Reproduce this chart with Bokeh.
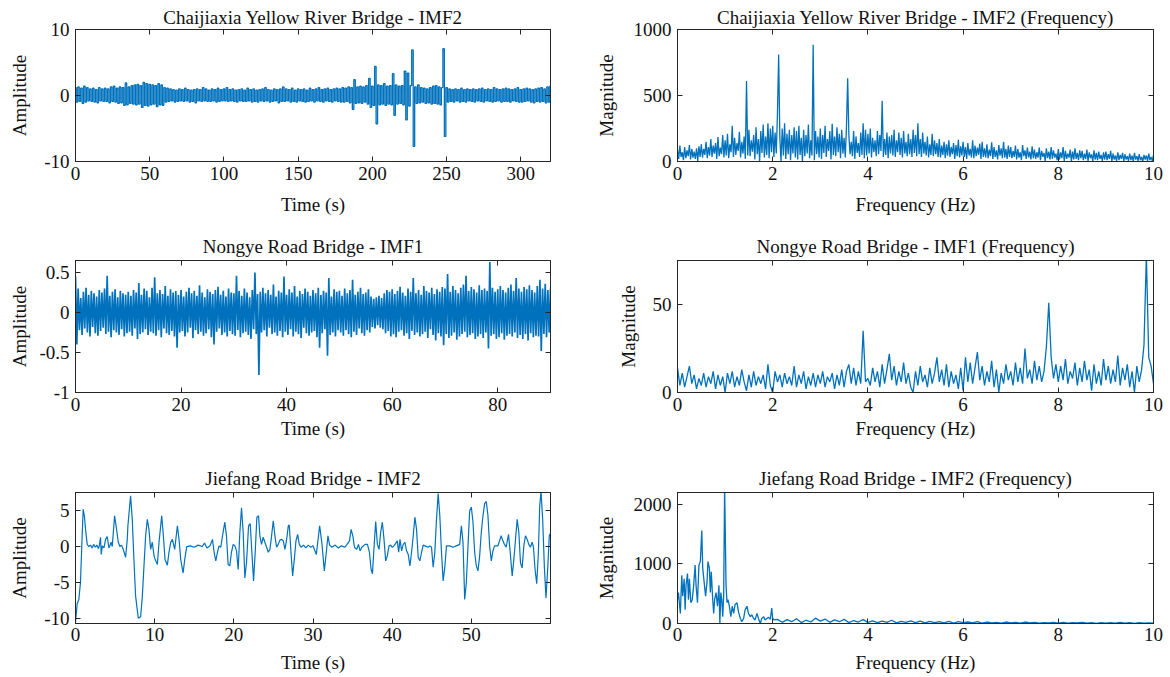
import numpy as np
from bokeh.plotting import figure
from bokeh.models import LinearAxis, FixedTicker, Range1d, CustomJSTickFormatter
from bokeh.layouts import column, row
from bokeh.embed import file_html
from bokeh.resources import INLINE

# ---------------- data ----------------
# Panel 1: Chaijiaxia Yellow River Bridge - IMF2 (time, 1 s steps, 0..320 s)
v1 = [
    1.2, -1.0, 1.3, -0.9, 1.1, -1.2, 1.4, -1.0, 1.2, -0.8,
    1.0, -0.9, 1.1, -1.0, 0.9, -1.1, 1.2, -0.8, 1.0, -0.9,
    1.1, -0.9, 1.0, -1.1, 1.3, -0.9, 1.4, -1.0, 1.1, -1.2,
    1.3, -1.1, 1.2, -1.5, 1.9, -1.4, 1.3, -1.2, 1.5, -1.3,
    1.6, -1.4, 1.7, -1.3, 1.5, -1.8, 2.0, -1.5, 1.8, -1.6,
    1.7, -1.4, 1.6, -1.3, 1.5, -1.7, 1.8, -1.4, 1.6, -1.5,
    1.2, -1.0, 1.1, -0.9, 1.0, -0.8, 0.9, -1.0, 0.8, -0.9,
    1.0, -0.8, 0.9, -0.9, 1.1, -0.8, 0.9, -1.0, 0.8, -0.9,
    0.9, -1.1, 1.0, -0.8, 0.9, -0.9, 1.2, -0.8, 1.0, -0.9,
    0.8, -0.9, 1.0, -0.8, 0.9, -1.0, 1.1, -0.9, 0.9, -0.8,
    1.0, -0.8, 1.2, -0.9, 0.9, -0.8, 1.0, -0.9, 0.8, -1.0,
    0.9, -0.8, 1.0, -0.9, 0.8, -0.9, 1.1, -0.8, 0.9, -1.0,
    1.0, -0.9, 0.8, -1.0, 0.9, -0.8, 1.0, -0.9, 1.2, -0.8,
    0.9, -1.0, 0.8, -0.9, 1.0, -0.8, 0.9, -1.1, 1.0, -0.9,
    1.3, -0.9, 1.0, -0.8, 0.9, -1.0, 1.1, -0.9, 0.8, -1.0,
    1.0, -0.8, 0.9, -0.9, 1.0, -1.0, 0.8, -0.9, 1.1, -0.8,
    0.9, -1.0, 1.0, -0.8, 1.2, -0.9, 0.9, -1.0, 1.0, -0.8,
    1.1, -0.9, 0.9, -1.0, 1.0, -0.8, 1.1, -0.9, 1.0, -1.0,
    1.2, -1.0, 1.1, -0.9, 1.3, -1.1, 1.2, -2.1, 2.4, -1.2,
    1.3, -1.1, 1.4, -1.2, 1.3, -1.0, 1.5, -1.3, 2.6, -1.8,
    1.4, -1.5, 4.4, -4.3, 1.6, -1.4, 1.5, -1.3, 1.8, -1.5,
    1.4, -1.3, 1.5, -1.4, 3.3, -3.0, 1.6, -1.3, 1.4, -1.2,
    1.5, -1.4, 3.7, -3.7, 3.4, -1.6, 1.5, 6.9, -7.7, 1.3,
    -1.2, 1.6, -1.1, 1.2, -1.0, 1.1, -1.2, 1.0, -1.1, 1.2,
    -1.3, 1.4, -1.2, 1.5, -1.3, 1.3, -1.4, 1.2, 7.1, -6.2,
    1.2, -1.0, 1.0, -0.9, 0.9, -1.0, 1.0, -0.8, 0.9, -1.0,
    1.1, -0.9, 0.9, -1.0, 1.0, -0.8, 0.9, -0.9, 1.0, -1.0,
    0.9, -0.8, 1.0, -0.9, 1.1, -1.0, 0.9, -0.8, 1.0, -0.9,
    0.9, -1.0, 1.2, -0.9, 1.0, -0.8, 0.9, -1.0, 1.0, -0.9,
    1.1, -0.9, 1.0, -1.0, 0.9, -0.8, 1.0, -0.9, 1.2, -1.0,
    0.9, -1.0, 1.0, -0.9, 1.1, -0.8, 1.0, -1.0, 0.9, -1.1,
    1.0, -0.9, 1.1, -1.0, 1.2, -0.9, 1.0, -1.1, 1.3, -1.0,
    1.4,
]
dt1 = 1.0

# Panel 2: Chaijiaxia spectrum (0.025 Hz steps, 0..10 Hz)
v2 = [
    90, 20, 120, 35, 70, 10, 110, 25, 85, 40, 125, 15, 95, 30, 75, 20, 100, 5, 115, 35,
    130, 30, 95, 50, 150, 25, 110, 45, 170, 35, 120, 60, 140, 20, 185, 40, 105, 55, 200, 30,
    160, 45, 210, 25, 130, 70, 270, 35, 180, 50, 140, 80, 225, 30, 150, 60, 190, 20, 610, 45,
    240, 40, 160, 75, 200, 15, 260, 55, 170, 0, 230, 65, 280, 30, 190, 50, 290, 25, 250, 70,
    270, 35, 220, 60, 360, 810, 180, 0, 250, 45, 290, 20, 210, 55, 240, 10, 200, 60, 260, 30,
    230, 15, 270, 50, 180, 0, 240, 40, 200, 60, 280, 25, 160, 45, 885, 10, 230, 55, 190, 30,
    250, 20, 200, 65, 270, 35, 170, 80, 230, 15, 285, 50, 190, 40, 260, 70, 210, 25, 240, 60,
    180, 30, 270, 630, 200, 55, 150, 40, 230, 20, 190, 65, 140, 35, 220, 50, 290, 25, 240, 45,
    210, 60, 250, 30, 180, 70, 160, 40, 230, 55, 200, 80, 460, 35, 170, 50, 220, 25, 190, 60,
    200, 45, 240, 35, 160, 70, 220, 50, 180, 30, 230, 60, 150, 40, 210, 55, 170, 35, 240, 65,
    200, 40, 290, 55, 170, 35, 220, 60, 150, 45, 190, 30, 130, 50, 210, 40, 160, 55, 140, 35,
    170, 30, 120, 50, 150, 25, 130, 45, 160, 35, 110, 55, 140, 20, 125, 40, 165, 30, 115, 45,
    150, 35, 110, 20, 140, 45, 95, 30, 160, 25, 120, 40, 105, 50, 135, 20, 150, 35, 100, 30,
    130, 25, 90, 40, 145, 20, 110, 35, 85, 15, 125, 45, 100, 25, 150, 30, 95, 20, 120, 35,
    110, 25, 80, 35, 120, 15, 95, 30, 70, 10, 125, 40, 85, 20, 105, 30, 75, 15, 115, 25,
    90, 20, 70, 30, 105, 10, 80, 35, 65, 5, 100, 25, 75, 15, 110, 20, 85, 30, 60, 10,
    95, 15, 70, 25, 110, 5, 80, 20, 60, 30, 90, 0, 75, 15, 100, 20, 65, 10, 85, 25,
    80, 10, 60, 20, 90, 5, 70, 25, 55, 0, 85, 15, 65, 10, 75, 20, 50, 5, 70, 15,
    75, 10, 55, 20, 80, 0, 60, 15, 45, 5, 70, 10, 50, 20, 65, 0, 55, 15, 40, 5,
    60, 10, 45, 0, 65, 15, 40, 5, 55, 10, 35, 0, 50, 15, 45, 5, 60, 10, 35, 5,
    50,
]
df2 = 0.025

# Panel 3: Nongye Road Bridge - IMF1 (time, 0.25 s steps, 0..90 s)
v3 = [
    0.45, -0.40, 0.30, -0.22, 0.18, -0.28, 0.26, -0.20, 0.31, -0.25, 0.22, -0.30, 0.27, -0.18, 0.24, -0.26, 0.20, -0.29, 0.28, -0.23,
    0.25, -0.19, 0.30, -0.27, 0.46, -0.24, 0.21, -0.31, 0.26, -0.22, 0.29, -0.25, 0.19, -0.28, 0.27, -0.21, 0.24, -0.30, 0.22, -0.26,
    0.26, -0.24, 0.21, -0.29, 0.28, -0.20, 0.25, -0.33, 0.37, -0.27, 0.22, -0.25, 0.30, -0.21, 0.27, -0.28, 0.19, -0.24, 0.31, -0.26,
    0.44, -0.29, 0.24, -0.22, 0.28, -0.31, 0.23, -0.20, 0.33, -0.26, 0.21, -0.28, 0.29, -0.23, 0.25, -0.30, 0.27, -0.44, 0.22, -0.25,
    0.28, -0.23, 0.20, -0.30, 0.26, -0.25, 0.31, -0.19, 0.24, -0.32, 0.27, -0.22, 0.21, -0.27, 0.34, -0.24, 0.25, -0.29, 0.19, -0.26,
    0.29, -0.21, 0.26, -0.31, 0.23, -0.40, 0.28, -0.24, 0.32, -0.20, 0.22, -0.28, 0.27, -0.25, 0.20, -0.30, 0.30, -0.23, 0.25, -0.27,
    0.24, -0.29, 0.46, -0.22, 0.27, -0.31, 0.21, -0.26, 0.30, -0.24, 0.25, -0.28, 0.19, -0.33, 0.28, -0.21, 0.50, -0.27, 0.23, -0.78,
    0.26, -0.25, 0.31, -0.22, 0.24, -0.30, 0.28, -0.19, 0.22, -0.27, 0.35, -0.25, 0.20, -0.29, 0.27, -0.23, 0.25, -0.31, 0.45, -0.24,
    0.22, -0.28, 0.29, -0.21, 0.25, -0.30, 0.33, -0.24, 0.20, -0.27, 0.27, -0.32, 0.23, -0.19, 0.30, -0.26, 0.26, -0.29, 0.21, -0.25,
    0.28, -0.23, 0.24, -0.31, 0.31, -0.44, 0.22, -0.26, 0.27, -0.21, 0.25, -0.54, 0.43, -0.28, 0.20, -0.25, 0.29, -0.30, 0.26, -0.22,
    0.27, -0.25, 0.21, -0.29, 0.30, -0.22, 0.24, -0.27, 0.28, -0.31, 0.41, -0.24, 0.22, -0.28, 0.26, -0.20, 0.31, -0.26, 0.23, -0.29,
    0.25, -0.22, 0.29, -0.25, 0.20, -0.18, 0.17, -0.20, 0.19, -0.16, 0.21, -0.19, 0.18, -0.21, 0.24, -0.26, 0.28, -0.23, 0.26, -0.30,
    0.29, -0.27, 0.23, -0.31, 0.27, -0.24, 0.32, -0.22, 0.25, -0.29, 0.21, -0.26, 0.30, -0.33, 0.26, -0.23, 0.43, -0.28, 0.24, -0.25,
    0.28, -0.30, 0.22, -0.27, 0.33, -0.24, 0.27, -0.32, 0.25, -0.21, 0.31, -0.28, 0.23, -0.35, 0.29, -0.26, 0.26, -0.30, 0.32, -0.41,
    0.30, -0.27, 0.48, -0.32, 0.26, -0.29, 0.33, -0.25, 0.28, -0.34, 0.24, -0.30, 0.31, -0.27, 0.35, -0.24, 0.46, -0.31, 0.27, -0.28,
    0.32, -0.26, 0.29, -0.33, 0.25, -0.30, 0.34, -0.27, 0.28, -0.32, 0.30, -0.25, 0.27, -0.45, 0.63, -0.29, 0.31, -0.27, 0.26, -0.33,
    0.29, -0.31, 0.33, -0.26, 0.28, -0.34, 0.25, -0.29, 0.31, -0.27, 0.35, -0.30, 0.27, -0.25, 0.43, -0.32, 0.30, -0.28, 0.26, -0.33,
    0.32, -0.27, 0.29, -0.35, 0.34, -0.26, 0.28, -0.31, 0.25, -0.29, 0.33, -0.30, 0.41, -0.48, 0.30, -0.27, 0.36, -0.31, 0.28, -0.25,
    0.30,
]
dt3 = 0.25

# Panel 4: Nongye spectrum (0.05 Hz steps, 0..10 Hz)
v4 = [
    14, 4, 11, 3, 9, 15, 5, 10, 2, 8, 4, 11, 3, 9, 5, 12, 2, 10, 4, 9,
    0, 11, 5, 12, 3, 9, 4, 13, 6, 1, 10, 3, 12, 4, 9, 5, 10, 2, 16, 4,
    0, 12, 6, 10, 3, 11, 5, 9, 4, 15, 3, 10, 5, 12, 2, 9, 4, 11, 3, 10,
    5, 12, 3, 9, 6, 11, 2, 10, 4, 13, 3, 12, 16, 5, 14, 4, 12, 5, 35, 6,
    8, 4, 14, 6, 12, 3, 16, 5, 13, 22, 7, 15, 4, 12, 6, 17, 5, 11, 3, 0,
    12, 4, 15, 6, 10, 3, 14, 5, 11, 20, 6, 13, 4, 16, 3, 12, 5, 10, 2, 14,
    1, 20, 6, 17, 5, 14, 23, 7, 15, 4, 12, 6, 18, 3, 13, 0, 11, 5, 16, 7,
    12, 4, 17, 6, 14, 5, 25, 8, 13, 5, 18, 7, 15, 6, 12, 26, 51, 20, 8, 16,
    6, 15, 7, 19, 5, 12, 8, 17, 4, 14, 6, 18, 7, 13, 1, 16, 5, 12, 4, 19,
    7, 15, 5, 13, 6, 21, 4, 14, 7, 16, 3, 12, 0, 15, 6, 13, 27, 78, 20, 15,
    5,
]
df4 = 0.05

# Panel 5: Jiefang Road Bridge - IMF2 (time in s, amplitude)
t5 = [0.00, 0.21, 0.42, 0.63, 0.84, 0.97, 1.14, 1.27, 1.48, 1.69, 1.9, 2.1, 2.3, 2.5, 2.7, 2.9, 3.0,
      3.16, 3.25, 3.38, 3.59, 3.80, 4.01, 4.22, 4.51, 4.64, 4.94, 5.19, 5.40, 5.61, 5.82, 6.03, 6.33,
      6.54, 6.62, 6.96, 7.17, 7.38, 7.59, 7.93, 8.23, 8.44, 8.65, 8.86, 9.07, 9.28, 9.49, 9.70, 9.92,
      10.13, 10.34, 10.55, 10.89, 11.10, 11.31, 11.60, 11.81, 12.03, 12.24, 12.53, 12.87, 13.08, 13.29,
      13.59, 13.80, 14.05, 14.5, 15.0, 15.5, 16.0, 16.3, 16.6, 17.0, 17.30, 17.51, 17.72, 17.93, 18.14,
      18.35, 18.57, 18.86, 19.07, 19.28, 19.49, 19.70, 19.92, 20.13, 20.34, 20.55, 20.76, 20.97, 21.18,
      21.39, 21.60, 21.86, 22.07, 22.28, 22.49, 22.70, 22.91, 23.12, 23.29, 23.50, 23.71, 23.92, 24.14,
      24.35, 24.56, 24.77, 24.98, 25.19, 25.40, 25.61, 25.82, 26.03, 26.24, 26.46, 26.67, 26.88, 27.00,
      27.22, 27.43, 27.64, 27.85, 28.06, 28.27, 28.48, 28.8, 29.1, 29.4, 29.7, 30.0,
      30.42, 30.84, 31.13, 31.43, 31.68, 31.89, 32.10, 32.39, 32.8, 33.2, 33.6, 34.0, 34.3, 34.61,
      34.82, 35.03, 35.24, 35.53, 35.74, 35.95, 36.16, 36.58, 36.88, 37.13, 37.34, 37.51, 37.67, 37.92,
      38.13, 38.34, 38.55, 38.76, 38.97, 39.18, 39.39, 39.60, 39.81, 40.02, 40.23, 40.65, 40.82, 40.99,
      41.19, 41.40, 41.61, 41.82, 42.03, 42.24, 42.45, 42.66, 42.87, 43.08, 43.29, 43.50, 43.71, 43.92,
      44.13, 44.55, 44.76, 44.97, 45.18, 45.39, 45.60, 45.81, 46.02, 46.23, 46.44, 46.65, 46.86, 47.27,
      47.69, 48.11, 48.53, 48.74, 48.95, 49.16, 49.37, 49.58, 49.79, 50.00, 50.21, 50.42, 50.63, 50.84,
      51.05, 51.26, 51.47, 51.68, 51.89, 52.10, 52.31, 52.52, 52.73, 52.94, 53.36, 53.77, 53.98, 54.19,
      54.40, 54.70, 54.91, 55.16, 55.37, 55.58, 55.79, 56.00, 56.21, 56.42, 56.63, 56.84, 57.05, 57.26,
      57.47, 57.68, 57.84, 58.05, 58.26, 58.47, 58.64, 58.80, 59.01, 59.22, 59.43, 59.64, 59.85, 59.95]
v5 = [-10.6, -8.0, -7.4, -5.0, 1.5, 5.2, 4.1, 2.4, 0.3, 0.0, 0.2, -0.2, 0.3, -0.1, 0.2, -0.3, 0.1,
      1.3, -1.1, 0.1, -0.2, 1.0, 1.4, -0.2, 0.6, 0.0, 4.3, 2.4, 0.6, 0.0, 0.2, -0.4, -1.5,
      1.0, 2.9, 7.1, 3.8, -1.8, -6.9, -10.0, -9.8, -7.0, -2.7, 1.5, 3.8, 2.4, -0.4, 0.6, -1.3,
      -2.0, -2.5, 0.6, 4.3, 1.5, -1.8, -2.6, -0.8, 0.6, 1.0, -0.4, 2.9, 1.0, -1.8,
      -3.7, -1.8, 0.0, 0.1, -0.1, 0.2, 0.0, 0.5, -0.2, 0.1, 1.0, -0.8, -2.0, -0.8, 0.1,
      -0.1, 1.5, 3.4, 1.5, -2.5, -2.7, -0.8, 0.3, 0.1, -0.6, -3.2, 2.0, 5.4, 2.0,
      -4.4, -2.3, 2.9, 3.2, -0.8, -4.8, -0.8, 4.1, 4.3, 1.5, 0.3, 1.3, 0.6, -0.1,
      -0.8, -0.4, 1.5, 3.6, 1.5, -0.1, 0.3, 0.9, 1.0, 0.8, -0.4, 1.0, 2.9, 3.0,
      -0.8, -4.1, -1.8, 0.8, 1.7, 0.3, -0.1, 0.2, -0.2, 0.2, -0.1, 0.1,
      -1.1, 2.9, 0.4, -3.4, -0.8, 1.5, 0.2, -0.1, 0.2, -0.2, 0.1, -0.1, 0.3, 0.8,
      2.4, 1.5, -0.1, -0.4, 0.3, -0.6, -0.1, 0.3, 0.3, -0.8, -3.2, -3.8, -0.8, 3.5,
      0.3, -0.4, 2.0, 3.4, 1.0, -2.0, -1.3, 0.1, 0.2, -0.1, 0.1, 0.8, -0.8, 1.0,
      -0.6, 0.3, 0.6, -0.6, -1.1, -2.7, -0.8, 1.5, 4.1, 2.4, -1.5, -2.0, -0.8, 0.2,
      0.1, -0.1, 0.1, -0.1, -2.9, -0.8, 3.8, 7.4, 4.3, -0.8, -4.8, -2.9, 0.1, 0.1,
      -0.1, 0.1, 0.3, 2.9, 0.6, -7.4, -5.0, 0.1, 5.0, 5.5, 3.4, -0.8, -2.7, -3.4,
      -1.3, 2.0, 4.3, 6.0, 6.3, 4.3, 0.1, -2.0, -0.6, 0.1, 0.1, 1.5, 0.8, 0.3,
      -0.1, 1.7, -0.8, -4.1, -1.8, 1.0, 3.8, 2.0, -2.3, -3.0, 0.1, 1.5, 1.0, 0.3,
      -0.1, 0.6, 0.0, -3.2, -5.2, -0.8, 5.7, 7.7, 3.8, -2.7, -7.2, -3.2, 1.5, 1.8]

# Panel 6: Jiefang spectrum, low band (explicit frequencies) + 0.1 Hz steps from 2.1 Hz
f6a = [0.00, 0.02, 0.06, 0.09, 0.11, 0.14, 0.16, 0.18, 0.21, 0.23, 0.25, 0.28, 0.31, 0.34, 0.37, 0.39,
       0.42, 0.45, 0.48, 0.51, 0.53, 0.56, 0.59, 0.62, 0.64, 0.67, 0.69, 0.71, 0.74, 0.76, 0.78, 0.81,
       0.84, 0.87, 0.89, 0.91, 0.93, 0.95, 0.97, 0.99, 1.02, 1.04, 1.06, 1.09, 1.12, 1.15, 1.18, 1.21,
       1.25, 1.28, 1.32, 1.35, 1.39, 1.42, 1.46, 1.49, 1.53, 1.56, 1.60, 1.63, 1.67, 1.70, 1.74, 1.77,
       1.81, 1.84, 1.88, 1.91, 1.95, 1.98, 2.00, 2.03]
m6a = [400, 520, 170, 810, 460, 750, 230, 640, 840, 400, 750, 350, 400, 640, 980, 640,
       350, 980, 1040, 1560, 930, 690, 460, 690, 1040, 930, 520, 870, 400, 170, 400, 520,
       290, 640, 0, 520, 400, 115, 460, 2300, 640, 350, 400, 290, 115, 290, 170, 320,
       350, 200, 85, 30, 85, 230, 290, 170, 115, 145, 85, 60, 170, 85, 0, 85,
       115, 60, 85, 105, 70, 260, 85, 60]
m6b = [
    70, 20, 65, 30, 80, 15, 55, 25, 90, 40,
    75, 20, 60, 30, 70, 15, 50, 25, 65, 20,
    45, 15, 40, 20, 55, 10, 35, 20, 45, 15,
    40, 10, 35, 15, 30, 10, 35, 5, 30, 15,
    25, 10, 30, 5, 25, 10, 20, 5, 25, 10,
    20, 5, 25, 10, 20, 5, 15, 10, 20, 5,
    20, 5, 15, 10, 20, 5, 15, 0, 15, 5,
    15, 5, 20, 5, 15, 0, 15, 5, 10, 5,
]
f6b_start, df6b = 2.1, 0.1

# ---------------- style ----------------
FONT = "Liberation Serif"
AX = "#262626"
TXT = "#111111"
BLUE = "#0072BD"
FS = "19px"


def make(width, height, lb, rb, tb, bb, xr, yr, xt, yt, title, xlabel, ylabel,
         ystand, xstand, xlstand, tstand):
    p = figure(width=width, height=height, x_range=Range1d(*xr), y_range=Range1d(*yr),
               x_axis_type=None, y_axis_type=None, output_backend="svg", toolbar_location=None,
               min_border_left=lb, min_border_right=rb, min_border_top=tb, min_border_bottom=bb,
               title=title, background_fill_color="white", border_fill_color="white")
    p.outline_line_color = AX
    p.outline_line_width = 1
    p.outline_line_alpha = 1
    p.title.align = "center"
    p.title.text_font = FONT
    p.title.text_font_size = FS
    p.title.text_font_style = "normal"
    p.title.text_color = TXT
    p.title.standoff = tstand
    fmt = CustomJSTickFormatter(code="return String(tick);")
    common = dict(axis_line_color=AX, major_tick_line_color=AX, major_tick_in=5, major_tick_out=0,
                  minor_tick_in=0, minor_tick_out=0)
    for loc, ticks, label, stand, lstand in (("below", xt, xlabel, xstand, xlstand),
                                             ("left", yt, ylabel, ystand, 6)):
        ax = LinearAxis(ticker=FixedTicker(ticks=ticks), formatter=fmt, axis_label=label,
                        axis_label_text_font=FONT, axis_label_text_font_size=FS,
                        axis_label_text_font_style="normal", axis_label_text_color=TXT,
                        axis_label_standoff=stand, major_label_text_font=FONT,
                        major_label_text_font_size=FS, major_label_text_color=TXT,
                        major_label_standoff=lstand, **common)
        p.add_layout(ax, loc)
    for loc, ticks in (("above", xt), ("right", yt)):
        ax = LinearAxis(ticker=FixedTicker(ticks=ticks), major_label_text_font_size="0px",
                        major_label_text_alpha=0, major_label_standoff=0, **common)
        p.add_layout(ax, loc)
    return p


LW, RW = 590, 578
H1, H2, H3 = 229, 232, 216

p1 = make(LW, H1, 75, 40, 29, 68, (0, 320), (-10, 10), [0, 50, 100, 150, 200, 250, 300], [-10, 0, 10],
          "Chaijiaxia Yellow River Bridge - IMF2", "Time (s)", "Amplitude", 11, 11, 5, 4)
p1.step(np.arange(len(v1)) * dt1, v1, mode="center", line_color=BLUE, line_width=1.3)

p2 = make(RW, H1, 87, 15, 29, 68, (0, 10), (0, 1000), [0, 2, 4, 6, 8, 10], [0, 500, 1000],
          "Chaijiaxia Yellow River Bridge - IMF2 (Frequency)", "Frequency (Hz)", "Magnitude", 14, 11, 5, 4)
p2.line(np.arange(len(v2)) * df2, v2, line_color=BLUE, line_width=1.3)

p3 = make(LW, H2, 75, 40, 31, 69, (0, 90), (-1, 0.65), [0, 20, 40, 60, 80], [-1, -0.5, 0, 0.5],
          "Nongye Road Bridge - IMF1", "Time (s)", "Amplitude", 6, 4, 5, 7)
p3.line(np.arange(len(v3)) * dt3, v3, line_color=BLUE, line_width=1.7)

p4 = make(RW, H2, 87, 15, 31, 69, (0, 10), (0, 75), [0, 2, 4, 6, 8, 10], [0, 50],
          "Nongye Road Bridge - IMF1 (Frequency)", "Frequency (Hz)", "Magnitude", 11, 4, 5, 7)
p4.line(np.arange(len(v4)) * df4, v4, line_color=BLUE, line_width=1.3)

p5 = make(LW, H3, 75, 40, 31, 54, (0, 60), (-10.75, 7.55), [0, 10, 20, 30, 40, 50], [-10, -5, 0, 5],
          "Jiefang Road Bridge - IMF2", "Time (s)", "Amplitude", 11, 8, 4, 7)
p5.line(t5, v5, line_color=BLUE, line_width=1.2)

p6 = make(RW, H3, 87, 15, 31, 54, (0, 10), (0, 2200), [0, 2, 4, 6, 8, 10], [0, 1000, 2000],
          "Jiefang Road Bridge - IMF2 (Frequency)", "Frequency (Hz)", "Magnitude", 14, 8, 4, 7)
f6 = list(f6a) + list(np.round(f6b_start + np.arange(len(m6b)) * df6b, 2))
m6 = list(m6a) + list(m6b)
p6.line(f6, m6, line_color=BLUE, line_width=1.3)

layout = column(row(p1, p2, spacing=0), row(p3, p4, spacing=0), row(p5, p6, spacing=0), spacing=0)

open("out.html", "w").write(file_html(layout, INLINE))
